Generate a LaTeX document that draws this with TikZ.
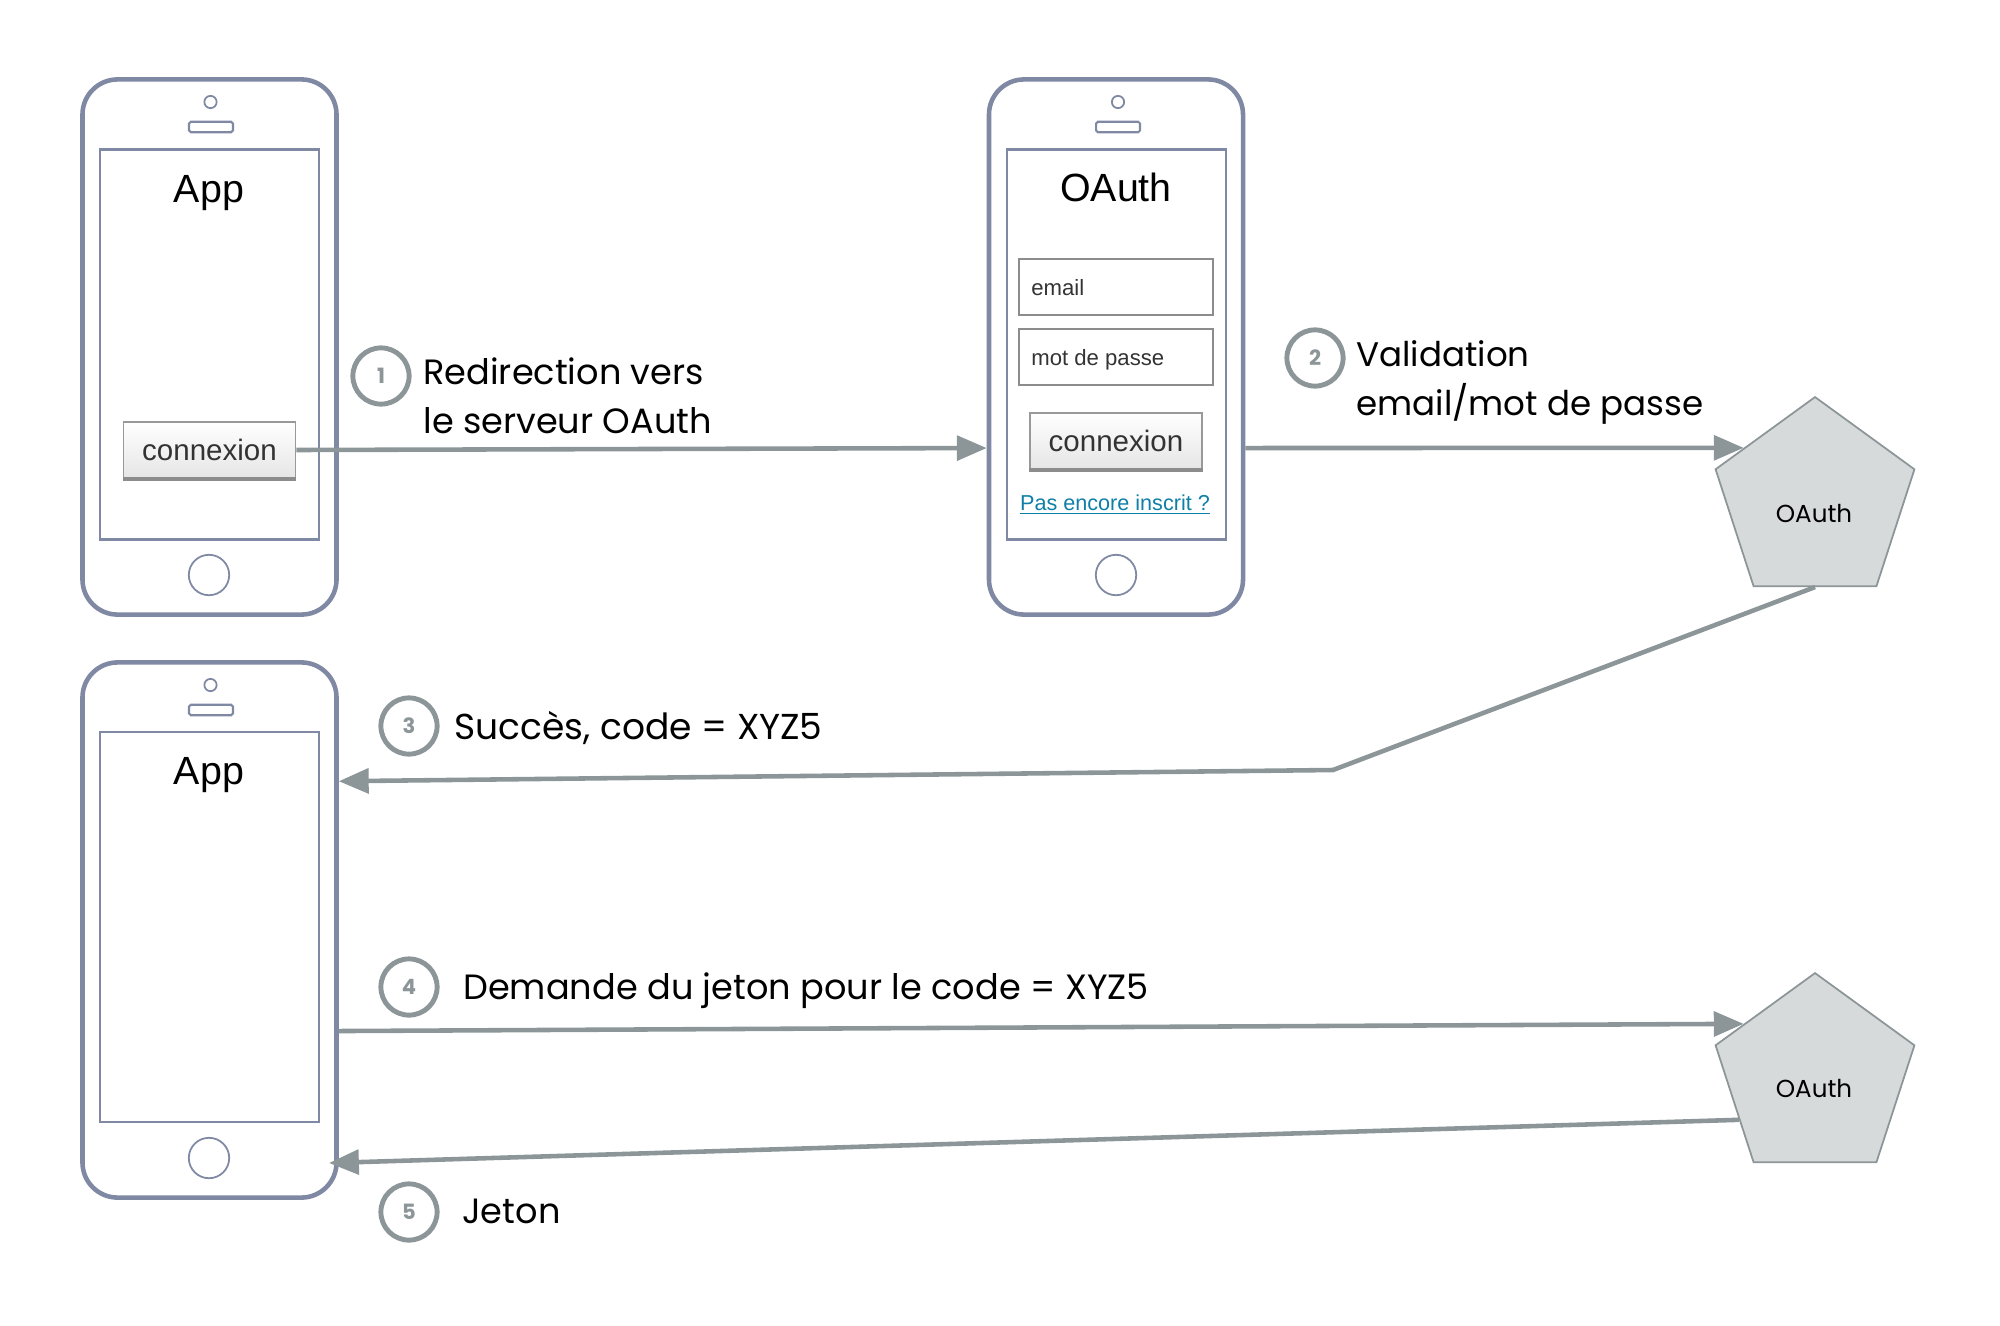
\documentclass[tikz,border=0pt]{standalone}
\usepackage{fontspec}
\usepackage{tikz}
\usetikzlibrary{arrows.meta,shapes.geometric}
\setmainfont{Liberation Sans}
\newfontfamily\captionfont{Poppins}
\definecolor{phoneblue}{HTML}{8089A3}
\definecolor{arrowgray}{HTML}{8C9598}
\definecolor{servergray}{HTML}{D7DADB}
\definecolor{linkblue}{HTML}{0F7FA8}
\begin{document}
\begin{tikzpicture}[x=0.02cm,y=0.02cm]
\tikzstyle{every node}+=[inner sep=0pt]
\tikzstyle{phone}=[draw=phoneblue,line width=2.6pt,rounded corners=20pt,minimum width=144.6pt,minimum height=304.6pt]
\tikzstyle{screen}=[draw=phoneblue,line width=1.2pt,minimum height=222pt]
\tikzstyle{speaker}=[draw=phoneblue,line width=1pt,circle,minimum size=7pt]
\tikzstyle{slot}=[draw=phoneblue,line width=1.2pt,rounded corners=1pt,minimum width=25pt,minimum height=6pt]
\tikzstyle{homekey}=[draw=phoneblue,line width=1pt,circle,minimum size=23pt]
\tikzstyle{field}=[draw=black!45,line width=1.1pt,minimum width=110pt,minimum height=31.5pt]
\tikzstyle{loginkey}=[draw=black!40,line width=1pt,top color=white,bottom color=black!10,minimum width=98pt,minimum height=32pt,font=\fontsize{16.8}{18}\selectfont,text=black!80]
\tikzstyle{keyedge}=[draw=black!45,line width=1.8pt]
\tikzstyle{server}=[draw=arrowgray,line width=1pt,fill=servergray,regular polygon,regular polygon sides=5,minimum size=119pt]
\tikzstyle{flow}=[draw=arrowgray,line width=2.6pt,-{Triangle[length=17pt,width=14pt]}]
\tikzstyle{stepmark}=[draw=arrowgray,line width=2.8pt,circle,minimum size=32pt,text=arrowgray,font=\captionfont\bfseries\fontsize{12}{14}\selectfont]
\tikzstyle{caption}=[anchor=base west,font=\captionfont\fontsize{20}{23}\selectfont]
\tikzstyle{narrowcaption}=[anchor=base west,font=\captionfont\fontsize{19.4}{23}\selectfont]
\tikzstyle{widecaption}=[anchor=base west,font=\captionfont\fontsize{20.5}{23}\selectfont]
\tikzstyle{title}=[font=\fontsize{22.4}{26}\selectfont]
\useasboundingbox (0,0) rectangle (2000,-1325);
\node [phone] (phoneA) at (209.5,-347) {};
\node [screen,minimum width=125pt] (screenA) at (209.5,-344.5) {};
\node [speaker] (speakerA) at (210.5,-102) {};
\node [slot] (slotA) at (211,-127) {};
\node [homekey] (homeA) at (209,-575) {};
\node [title] (titleA) at (209,-193) {App};
\node [loginkey] (loginA) at (209.5,-450) {connexion};
\draw [keyedge] (loginA.south west) -- (loginA.south east);
\node [phone] (phoneB) at (1116,-347) {};
\node [screen,minimum width=125pt] (screenB) at (1116.5,-344.5) {};
\node [speaker] (speakerB) at (1118,-102) {};
\node [slot] (slotB) at (1118,-127) {};
\node [homekey] (homeB) at (1116,-575) {};
\node [title] (titleB) at (1116,-187) {OAuth};
\node [field] (emailB) at (1116,-287) {};
\node [anchor=base west,font=\fontsize{12.6}{15}\selectfont,text=black!80] (emailtext) at (1031,-295) {email};
\node [field] (passB) at (1116,-357) {};
\node [anchor=base west,font=\fontsize{12.6}{15}\selectfont,text=black!80] (passtext) at (1031,-365) {mot de passe};
\node [loginkey] (loginB) at (1116,-441) {connexion};
\draw [keyedge] (loginB.south west) -- (loginB.south east);
\node [font=\fontsize{12.3}{15}\selectfont,text=linkblue] (linkB) at (1115,-505) {\underline{Pas encore inscrit ?}};
\node [phone] (phoneC) at (209.5,-930) {};
\node [screen,minimum width=125pt] (screenC) at (209.5,-927) {};
\node [speaker] (speakerC) at (210.5,-685) {};
\node [slot] (slotC) at (211,-710) {};
\node [homekey] (homeC) at (209,-1158) {};
\node [title] (titleC) at (209,-775) {App};
\node [server] (oauthA) at (1815,-501.6) {};
\node [font=\captionfont\fontsize{14}{16}\selectfont] (oauthAtext) at (1814,-513) {OAuth};
\node [server] (oauthB) at (1815,-1077.6) {};
\node [font=\captionfont\fontsize{14}{16}\selectfont] (oauthBtext) at (1814,-1088) {OAuth};
\coordinate (bendC) at (1333,-770);
\coordinate (tipE) at (329,-1163);
\draw [flow] (loginA.east) -- (phoneB.218.2);
\draw [flow] (phoneB.-38) -- (oauthA.143);
\draw [flow] (oauthA.south) -- (bendC) -- (phoneC.49.9);
\draw [flow] (phoneC.-38.2) -- (oauthB.143.5);
\draw [flow] (oauthB.209) -- (tipE);
\node [stepmark] (stepA) at (381,-376) {1};
\node [stepmark] (stepB) at (1315,-358) {2};
\node [stepmark] (stepC) at (409,-726) {3};
\node [stepmark] (stepD) at (409,-987) {4};
\node [stepmark] (stepE) at (409,-1212) {5};
\node [caption] (textAa) at (423,-384) {Redirection vers};
\node [caption] (textAb) at (423,-433) {le serveur OAuth};
\node [narrowcaption] (textBa) at (1356,-366) {Validation};
\node [narrowcaption] (textBb) at (1356,-415) {email/mot de passe};
\node [widecaption] (textC) at (454,-739) {Succès, code = XYZ5};
\node [caption] (textD) at (463,-999) {Demande du jeton pour le code = XYZ5};
\node [caption] (textE) at (462,-1223) {Jeton};
\end{tikzpicture}
\end{document}
